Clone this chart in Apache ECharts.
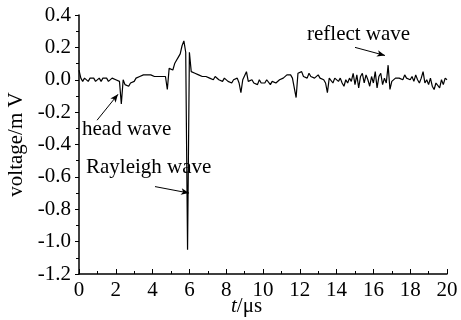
<!DOCTYPE html>
<html>
<head>
<meta charset="utf-8">
<script src="https://cdn.jsdelivr.net/npm/echarts@6/dist/echarts.min.js"></script>
<style>
  html, body { margin: 0; padding: 0; background: #fff; }
  #chart { width: 461px; height: 320px; }
</style>
</head>
<body>
<div id="chart"></div>
<script>
// sample spacing of the recorded trace, in microseconds
const sampleStep = 0.1;

// voltage (mV), one value per 0.1 us, t = 0 .. 20
const voltage = [
  0.06, 0.01, -0.01, 0.01, 0.00, -0.01, 0.01, 0.00, 0.01, -0.01,
  0.00, 0.01, -0.01, 0.01, 0.00, 0.01, -0.01, 0.00, 0.01, 0.02,
  0.00, 0.01, -0.01, -0.15, 0.00, -0.03, -0.02, -0.04, -0.02, -0.03,
  -0.01, 0.01, 0.00, 0.02, 0.01, 0.03, 0.02, 0.03, 0.02, 0.03,
  0.04, 0.02, 0.03, 0.02, 0.03, 0.02, 0.03, 0.02, -0.06, 0.07,
  0.08, 0.06, 0.10, 0.12, 0.14, 0.16, 0.21, 0.24, 0.17, -1.05,
  0.17, 0.05, 0.06, 0.04, 0.05, 0.03, 0.04, 0.02, 0.03, 0.02,
  0.03, 0.01, 0.02, 0.00, 0.02, 0.01, 0.00, 0.01, -0.01, 0.01,
  0.00, -0.01, 0.00, -0.02, 0.00, -0.01, 0.01, -0.02, -0.08, 0.00,
  0.01, 0.05, -0.01, -0.02, 0.00, -0.02, -0.01, -0.03, 0.00, -0.02,
  -0.01, -0.02, 0.00, -0.01, -0.03, -0.01, 0.00, -0.02, -0.01, 0.00,
  -0.01, 0.01, 0.00, 0.03, 0.02, 0.03, 0.01, 0.00, -0.11, 0.04,
  0.03, 0.05, 0.02, 0.03, 0.01, 0.04, 0.02, 0.03, 0.01, 0.02,
  0.03, 0.01, 0.02, 0.00, -0.02, -0.08, 0.01, 0.00, -0.02, 0.01,
  0.00, -0.01, 0.01, -0.02, -0.04, 0.00, -0.02, 0.01, -0.01, 0.04,
  -0.03, 0.03, -0.05, 0.02, 0.04, -0.02, 0.03, 0.00, -0.04, 0.02,
  -0.02, 0.05, -0.05, 0.02, 0.04, -0.03, 0.01, -0.02, 0.09, -0.06,
  -0.01, 0.00, 0.01, 0.02, 0.01, 0.02, 0.00, 0.03, 0.01, 0.02,
  0.00, 0.02, -0.01, 0.03, 0.00, -0.02, 0.01, 0.05, -0.02, 0.00,
  -0.03, 0.01, -0.04, -0.06, -0.02, -0.01, -0.05, 0.00, -0.03, 0.01,
  0.00
];

// annotation arrows, [t, voltage] from -> to
const headArrow = [[0.98, -0.25], [2.12, -0.09]];
const rayleighArrow = [[4.13, -0.66], [5.98, -0.70]];
const reflectArrow = [[15.0, 0.20], [16.63, 0.15]];

const FONT = '"Liberation Serif", "DejaVu Serif", serif';

const chart = echarts.init(document.getElementById('chart'));

const points = voltage.map((v, i) => [+(i * sampleStep).toFixed(1), v]);

const arrowLine = (pair) => [
  { coord: pair[0], symbol: 'none' },
  { coord: pair[1], symbol: 'arrow', symbolSize: [5, 8] }
];

const option = {
  animation: false,
  backgroundColor: '#fff',
  grid: {
    left: 79,
    right: 14,
    top: 15,
    bottom: 46,
    containLabel: false,
    outerBoundsMode: 'none'
  },
  xAxis: {
    type: 'value',
    min: 0,
    max: 20,
    interval: 2,
    axisLine: { onZero: false, lineStyle: { color: '#000', width: 1.5 } },
    axisTick: { inside: true, length: 5, lineStyle: { color: '#000' } },
    minorTick: { show: true, splitNumber: 2, length: 3, lineStyle: { color: '#000' } },
    axisLabel: { fontFamily: FONT, fontSize: 21, color: '#000', margin: 6 },
    splitLine: { show: false }
  },
  yAxis: {
    type: 'value',
    min: -1.2,
    max: 0.4,
    interval: 0.2,
    name: 'voltage/m V',
    nameLocation: 'middle',
    nameGap: 50,
    nameTextStyle: { fontFamily: FONT, fontSize: 21, color: '#000' },
    axisLine: { show: true, onZero: false, lineStyle: { color: '#000', width: 1.5 } },
    axisTick: { inside: false, length: 4, lineStyle: { color: '#000' } },
    minorTick: { show: true, splitNumber: 2, length: 3, lineStyle: { color: '#000' } },
    axisLabel: {
      fontFamily: FONT,
      fontSize: 21,
      color: '#000',
      margin: 8,
      formatter: (v) => v.toFixed(1)
    },
    splitLine: { show: false }
  },
  series: [
    {
      type: 'line',
      data: points,
      symbol: 'none',
      lineStyle: { color: '#000', width: 1.2 },
      markLine: {
        silent: true,
        lineStyle: { color: '#000', width: 1, type: 'solid' },
        label: { show: false },
        data: [arrowLine(headArrow), arrowLine(rayleighArrow), arrowLine(reflectArrow)]
      }
    }
  ],
  graphic: [
    {
      type: 'text', left: 82, top: 119,
      style: { text: 'head wave', font: '21px ' + FONT, fill: '#000' }
    },
    {
      type: 'text', left: 86, top: 157,
      style: { text: 'Rayleigh wave', font: '21px ' + FONT, fill: '#000' }
    },
    {
      type: 'text', left: 307, top: 24,
      style: { text: 'reflect wave', font: '21px ' + FONT, fill: '#000' }
    },
    {
      // x axis title
      type: 'text', left: 231, top: 296,
      style: {
        text: '{i|t}/μs',
        font: '21px ' + FONT,
        fill: '#000',
        rich: { i: { font: 'italic 21px ' + FONT, fill: '#000' } }
      }
    }
  ]
};

chart.setOption(option);
</script>
</body>
</html>
